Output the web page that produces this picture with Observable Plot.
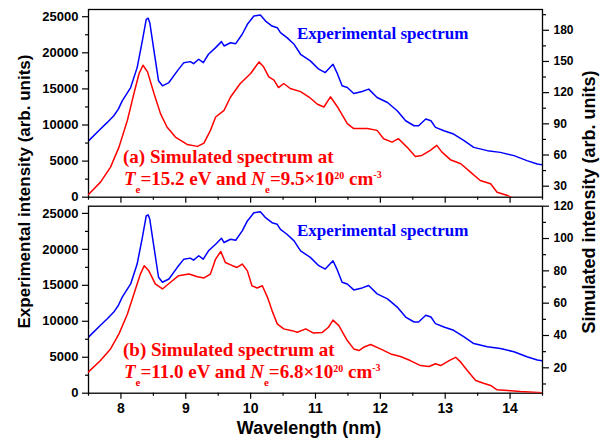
<!DOCTYPE html>
<html>
<head>
<meta charset="utf-8">
<script src="https://cdn.jsdelivr.net/npm/d3@7"></script>
<script src="https://cdn.jsdelivr.net/npm/@observablehq/plot@0.6"></script>
<style>
  html, body { margin: 0; padding: 0; background: #fff; }
  #wrap { position: relative; width: 605px; height: 439px; overflow: hidden; }
  #wrap svg { position: absolute; left: 0; }
</style>
</head>
<body>
<div id="wrap"></div>
<script>
// ---------- data ----------
const expWavelength = [7.50, 7.685, 7.79, 7.89, 7.96, 8.02, 8.15, 8.25, 8.33, 8.39, 8.42, 8.445, 8.51, 8.58, 8.64, 8.74, 8.87, 8.97, 9.07, 9.12, 9.20, 9.27, 9.35, 9.46, 9.55, 9.59, 9.69, 9.77, 9.87, 9.95, 10.05, 10.15, 10.23, 10.33, 10.41, 10.46, 10.56, 10.67, 10.77, 10.92, 11.05, 11.15, 11.27, 11.33, 11.41, 11.49, 11.59, 11.72, 11.82, 11.95, 12.11, 12.26, 12.39, 12.52, 12.59, 12.70, 12.78, 12.85, 12.98, 13.13, 13.29, 13.44, 13.65, 13.85, 14.06, 14.26, 14.42, 14.50];
const expIntensity = [7800, 9450, 10360, 11280, 12200, 13350, 15190, 17950, 21640, 24640, 24800, 24170, 20260, 16120, 15430, 15880, 17500, 18640, 18780, 18500, 19110, 18640, 19800, 20720, 21550, 20950, 21400, 21270, 22570, 23950, 25090, 25230, 24400, 23710, 23480, 22790, 22100, 21180, 19800, 18880, 17730, 17260, 18420, 17260, 15430, 15190, 14360, 14640, 14970, 13810, 13120, 11970, 10590, 9900, 9900, 10830, 10590, 9670, 9210, 8750, 7830, 6900, 6450, 6210, 5760, 5070, 4610, 4500];

const simAWavelength = [7.50, 7.685, 7.84, 7.97, 8.10, 8.20, 8.28, 8.34, 8.41, 8.51, 8.61, 8.71, 8.84, 9.02, 9.18, 9.28, 9.38, 9.46, 9.59, 9.69, 9.84, 10.00, 10.13, 10.20, 10.28, 10.36, 10.43, 10.51, 10.61, 10.77, 10.90, 11.03, 11.13, 11.23, 11.34, 11.49, 11.59, 11.80, 11.95, 12.05, 12.18, 12.28, 12.41, 12.54, 12.64, 12.77, 12.87, 12.95, 13.08, 13.24, 13.39, 13.54, 13.70, 13.80, 13.96, 14.06];
const simAIntensity = [22, 33.9, 48.3, 67.6, 93.4, 119.1, 138.4, 146.4, 140, 119.1, 99.8, 86.9, 77.3, 70.2, 68.3, 71.5, 83.7, 96.6, 103, 115.8, 128.8, 138.4, 149.6, 144.8, 135.1, 132, 124.9, 128.8, 124, 121, 115.8, 108.8, 106.2, 116, 106.2, 90.2, 85.4, 85.4, 83.7, 75.7, 72.4, 75.7, 67.6, 58.6, 59.6, 64.4, 69.3, 62.8, 55.5, 51.6, 43.5, 35.5, 32.3, 24.2, 21, 18];

const simBWavelength = [7.50, 7.685, 7.84, 7.97, 8.10, 8.20, 8.30, 8.36, 8.43, 8.53, 8.64, 8.76, 8.89, 9.05, 9.18, 9.28, 9.38, 9.46, 9.54, 9.61, 9.72, 9.79, 9.87, 9.95, 10.02, 10.10, 10.18, 10.26, 10.33, 10.41, 10.51, 10.64, 10.72, 10.85, 10.97, 11.10, 11.20, 11.27, 11.36, 11.49, 11.59, 11.67, 11.74, 11.85, 12.00, 12.16, 12.31, 12.46, 12.62, 12.75, 12.85, 12.93, 13.06, 13.16, 13.24, 13.34, 13.47, 13.59, 13.70, 13.80, 13.96, 14.16, 14.50];
const simBIntensity = [17.5, 24.5, 31.7, 41, 53.3, 65.7, 78, 83.2, 80, 71.9, 68.8, 72.8, 77, 78, 76.4, 75.6, 78, 87.3, 92, 85.2, 83.2, 82.1, 84.2, 80, 70.8, 69.4, 70.8, 63.6, 55.4, 47.2, 44.1, 43, 42, 44.1, 41.5, 41.8, 45.1, 49.5, 46.1, 36.9, 31.7, 30.7, 32.7, 34.4, 31.7, 28.6, 27, 24.5, 21.4, 20.8, 22.5, 21.4, 24.5, 26.5, 23.5, 18.3, 12.2, 10.5, 9.1, 6.4, 6, 5.3, 4.6];

const xMajor = [8, 9, 10, 11, 12, 13, 14];
const xMinor = [7.5, 8.5, 9.5, 10.5, 11.5, 12.5, 13.5, 14.5];
const leftMajor = [0, 5000, 10000, 15000, 20000, 25000];
const leftMinor = [2500, 7500, 12500, 17500, 22500];
const rightAMajor = [30, 60, 90, 120, 150, 180];
const rightAMinor = [45, 75, 105, 135, 165, 195];
const rightBMajor = [20, 40, 60, 80, 100, 120];
const rightBMinor = [10, 30, 50, 70, 90, 110];

// ---------- tables ----------
const expData = expWavelength.map((w, i) => ({w, v: expIntensity[i]}));
const simAData = simAWavelength.map((w, i) => ({w, v: simAIntensity[i]}));
const simBData = simBWavelength.map((w, i) => ({w, v: simBIntensity[i]}));

const wrap = document.getElementById("wrap");
const FONT = "'Liberation Sans', Arial, sans-serif";
const baseStyle = {fontFamily: FONT, fontWeight: "bold", fontSize: "13px", background: "transparent", overflow: "visible", color: "black"};
const W = 605, ML = 88, MR = 63;

function leftPanel({top, height, mt, mb, showXLabels}) {
  const p = Plot.plot({
    width: W, height, marginLeft: ML, marginRight: MR, marginTop: mt, marginBottom: mb,
    style: baseStyle,
    x: {domain: [7.5, 14.5], axis: null},
    y: {domain: [0, 26000], axis: null},
    marks: [
      Plot.line(expData, {x: "w", y: "v", stroke: "#0000ff", strokeWidth: 1.5, clip: true}),
      Plot.axisY(leftMajor, {anchor: "left", tickSize: 6, tickPadding: 4, strokeWidth: 1.2, tickFormat: d => String(d), label: null, fontSize: 13}),
      Plot.axisY(leftMinor, {anchor: "left", tickSize: 3, strokeWidth: 1.2, tickFormat: () => "", label: null}),
      Plot.axisX(xMajor, {anchor: "bottom", tickSize: 6, tickPadding: 4, strokeWidth: 1.2, tickFormat: showXLabels ? (d => String(d)) : (() => ""), label: null, fontSize: 14}),
      Plot.axisX(xMinor, {anchor: "bottom", tickSize: 3, strokeWidth: 1.2, tickFormat: () => "", label: null}),
      Plot.frame({stroke: "black", strokeWidth: 1.3})
    ]
  });
  p.style.top = top + "px";
  wrap.appendChild(p);
}

function rightPanel({top, height, mt, mb, data, domain, major, minor}) {
  const p = Plot.plot({
    width: W, height, marginLeft: ML, marginRight: MR, marginTop: mt, marginBottom: mb,
    style: baseStyle,
    x: {domain: [7.5, 14.5], axis: null},
    y: {domain, axis: null},
    marks: [
      Plot.line(data, {x: "w", y: "v", stroke: "#ff0000", strokeWidth: 1.5, clip: true}),
      Plot.axisY(major, {anchor: "right", tickSize: 6, tickPadding: 5, strokeWidth: 1.2, tickFormat: d => String(d), label: null, fontSize: 12}),
      Plot.axisY(minor, {anchor: "right", tickSize: 3, strokeWidth: 1.2, tickFormat: () => "", label: null})
    ]
  });
  p.style.top = top + "px";
  wrap.appendChild(p);
}

leftPanel({top: 0, height: 205, mt: 9, mb: 8.3, showXLabels: false});
rightPanel({top: 0, height: 205, mt: 9, mb: 8.3, data: simAData, domain: [19.4, 200], major: rightAMajor, minor: rightAMinor});
leftPanel({top: 200, height: 239, mt: 5.7, mb: 46.3, showXLabels: true});
rightPanel({top: 200, height: 239, mt: 5.7, mb: 46.3, data: simBData, domain: [4.3, 120], major: rightBMajor, minor: rightBMinor});

// ---------- labels & annotations ----------
const svg = d3.select(wrap).append("svg")
  .attr("width", W).attr("height", 439)
  .style("top", "0px").style("pointer-events", "none");

svg.append("text")
  .attr("transform", "translate(30,191.5) rotate(-90)")
  .attr("text-anchor", "middle")
  .attr("font-family", FONT).attr("font-weight", "bold").attr("font-size", 17)
  .text("Experimental intensity (arb. units)");

svg.append("text")
  .attr("transform", "translate(595,202) rotate(-90)")
  .attr("text-anchor", "middle")
  .attr("font-family", FONT).attr("font-weight", "bold").attr("font-size", 18)
  .text("Simulated intensity (arb. units)");

svg.append("text")
  .attr("x", 309).attr("y", 434)
  .attr("text-anchor", "middle")
  .attr("font-family", FONT).attr("font-weight", "bold").attr("font-size", 18)
  .text("Wavelength (nm)");

const SERIF = "'Liberation Serif', 'Times New Roman', serif";
function blueLabel(y) {
  svg.append("text").attr("x", 297).attr("y", y)
    .attr("font-family", SERIF).attr("font-weight", "bold").attr("font-size", 17)
    .attr("fill", "#0000ff").text("Experimental spectrum");
}
blueLabel(38.5);
blueLabel(236);

function redLabel(y1, letter, te, ne) {
  const g = svg.append("g").attr("font-family", SERIF).attr("font-weight", "bold").attr("fill", "#ff0000");
  g.append("text").attr("x", 123).attr("y", y1).attr("font-size", 19)
    .text(`(${letter}) Simulated spectrum at`);
  const t = g.append("text").attr("x", 124).attr("y", y1 + 22).attr("font-size", 19);
  t.append("tspan").attr("font-style", "italic").text("T");
  t.append("tspan").attr("font-size", 11).attr("dy", 8).text("e");
  t.append("tspan").attr("dy", -8).text(`=${te} eV and `);
  t.append("tspan").attr("font-style", "italic").text("N");
  t.append("tspan").attr("font-size", 11).attr("dy", 8).text("e");
  t.append("tspan").attr("dy", -8).text(`=${ne}×10`);
  t.append("tspan").attr("font-size", 10).attr("dy", -6).text("20");
  t.append("tspan").attr("dy", 6).text(" cm");
  t.append("tspan").attr("font-size", 10).attr("dy", -7).text("-3");
}
redLabel(162.5, "a", "15.2", "9.5");
redLabel(356, "b", "11.0", "6.8");
</script>
</body>
</html>
